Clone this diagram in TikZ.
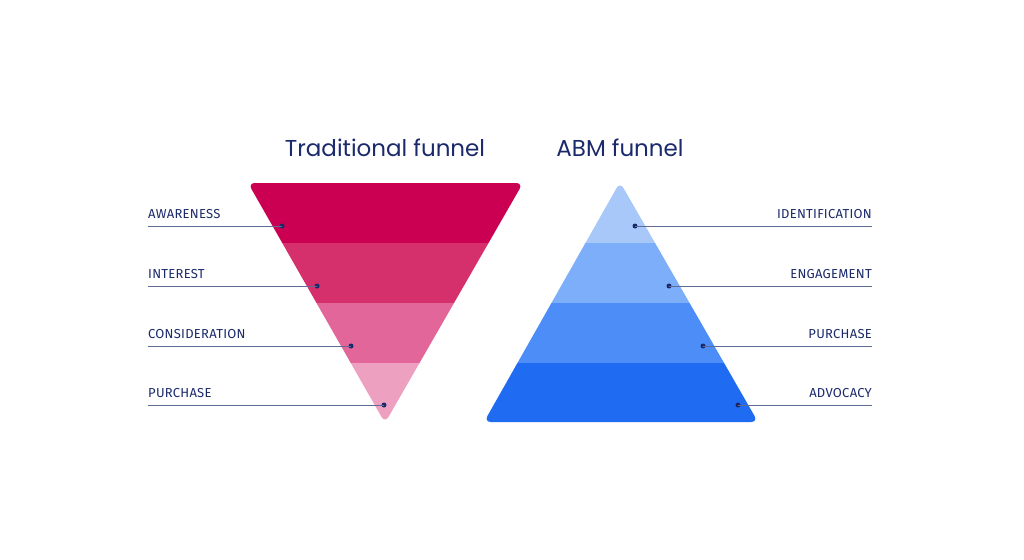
\documentclass[tikz,border=0pt]{standalone}
\usepackage{fontspec}
\setmainfont{Fira Sans}
\newfontfamily\titlefont{Poppins}
\definecolor{navy}{HTML}{1B2A6B}
\definecolor{tA}{HTML}{CC0052}
\definecolor{tB}{HTML}{D6306C}
\definecolor{tC}{HTML}{E2669A}
\definecolor{tD}{HTML}{EDA0BF}
\definecolor{aA}{HTML}{A8C8FA}
\definecolor{aB}{HTML}{7CAEF9}
\definecolor{aC}{HTML}{4C8DF8}
\definecolor{aD}{HTML}{1F6BF2}
\begin{document}
\begin{tikzpicture}[x=1pt,y=-1pt,
  lab/.style={font=\fontsize{13}{14}\selectfont\addfontfeature{LetterSpace=2}, text=navy, inner sep=0pt},
  ttl/.style={font=\titlefont\fontsize{23}{26}\selectfont, text=navy},
  lead/.style={draw=navy!70, line width=0.7pt},
  dotc/.style={circle, fill=navy, inner sep=0pt, minimum size=5pt}]
\useasboundingbox (0,0) rectangle (1024,559);
\fill[white] (0,0) rectangle (1024,559);
% traditional funnel
\begin{scope}
\clip[rounded corners=7pt] (248,183) -- (523,183) -- (385,423) -- cycle;
\fill[tA] (240,175) rectangle (530,243);
\fill[tB] (240,243) rectangle (530,303);
\fill[tC] (240,303) rectangle (530,363);
\fill[tD] (240,363) rectangle (530,430);
\end{scope}
% ABM funnel
\begin{scope}
\clip[rounded corners=7pt] (620,182) -- (758,422) -- (484,422) -- cycle;
\fill[aA] (475,175) rectangle (765,243);
\fill[aB] (475,243) rectangle (765,303);
\fill[aC] (475,303) rectangle (765,363);
\fill[aD] (475,363) rectangle (765,430);
\end{scope}
\node[ttl] (t1) at (385,148) {Traditional funnel};
\node[ttl] (t2) at (620,148) {ABM funnel};
% left labels
\foreach \n/\t/\y/\dx in {1/AWARENESS/226/282, 2/INTEREST/286/317, 3/CONSIDERATION/346/351, 4/PURCHASE/405/384}{
  \coordinate (ls\n) at (148,\y);
  \node[dotc] (ld\n) at (\dx,\y) {};
  \draw[lead] (ls\n) -- (ld\n.center);
  \node[lab, anchor=south west] (ll\n) at (148,\y-7) {\t};
}
\foreach \n/\t/\y/\dx in {1/IDENTIFICATION/226/635, 2/ENGAGEMENT/286/669, 3/PURCHASE/346/703, 4/ADVOCACY/405/738}{
  \coordinate (rs\n) at (872,\y);
  \node[dotc] (rd\n) at (\dx,\y) {};
  \draw[lead] (rs\n) -- (rd\n.center);
  \node[lab, anchor=south east] (rl\n) at (872,\y-7) {\t};
}
\end{tikzpicture}
\end{document}
